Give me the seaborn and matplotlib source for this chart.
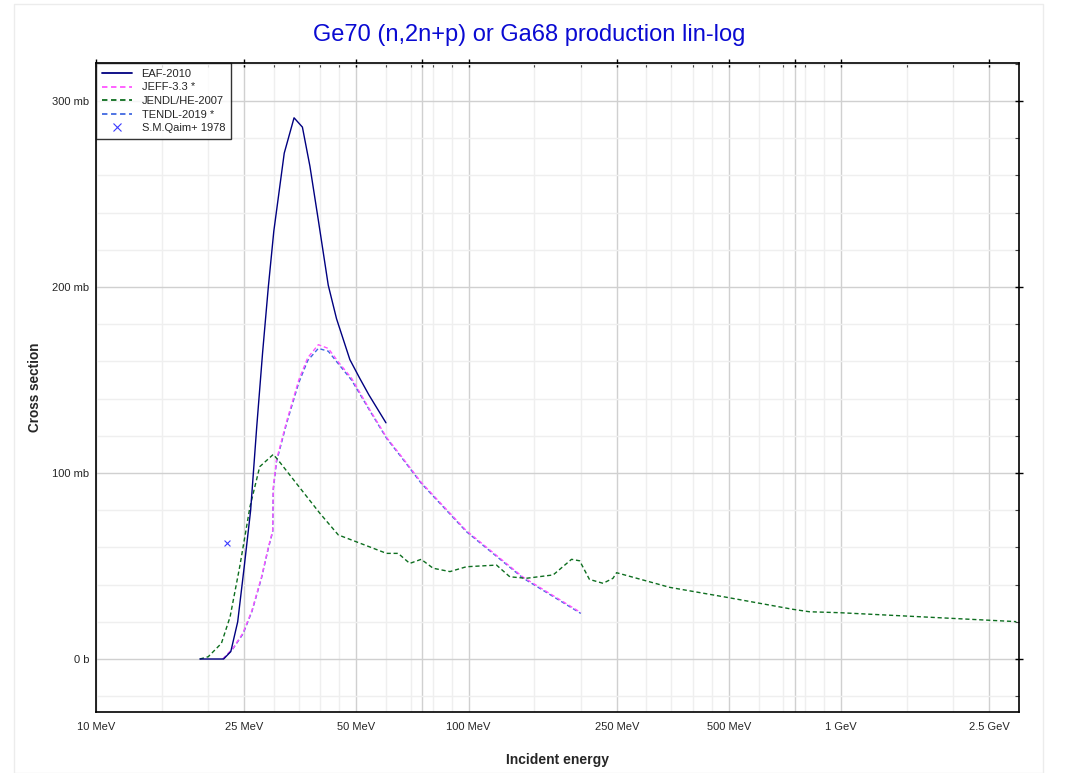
import numpy as np
import pandas as pd
import matplotlib
matplotlib.use('Agg')
import matplotlib.pyplot as plt
import matplotlib.ticker as mticker
from matplotlib import font_manager
from matplotlib.lines import Line2D
from matplotlib.patches import Rectangle
import seaborn as sns

# --- data (energy in MeV, cross section in mb) ---
eaf_e = [19.0, 22.0, 23.0, 24.0, 25.0, 26.0, 27.0, 28.0, 29.0, 30.0, 32.0, 34.0, 35.8,
         37.5, 39.5, 42.0, 44.2, 48.0, 51.0, 54.0, 60.0]
eaf_xs = [0, 0, 4, 20, 50, 80, 125, 165, 200, 230, 272, 291, 286,
          265, 236, 201, 183, 161, 151, 142, 127]

jeff_e = [21.9, 23.3, 24.8, 26.2, 27.8, 29.0, 29.8, 29.9, 30.5, 32.5, 35.0, 37.0, 39.5,
          42.0, 45.0, 48.5, 54.3, 60.3, 66.0, 74.6, 98.6, 140.0, 200.0]
jeff_xs = [0, 5.7, 14, 26, 44, 60, 69, 92, 107, 128, 150, 162, 169,
           167, 159, 151, 134, 119, 109, 95, 69, 44, 25]

tendl_e = jeff_e
tendl_xs = [0, 5.5, 13.5, 25.5, 43.5, 59.5, 68.5, 91, 106, 127, 148.5, 160.5, 167,
            165.5, 158, 150, 133.5, 118.5, 108.5, 94.5, 68.5, 43.5, 24.5]

jendl_e = [19.0, 20.0, 21.7, 22.9, 24.3, 25.9, 27.5, 29.9, 30.8, 34.5, 39.9, 44.7, 50.0,
           60.2, 64.7, 69.5, 74.6, 80.3, 89.1, 98.6, 118.8, 129.0, 142.8, 168.6, 188.9,
           198.6, 211.0, 229.5, 244.0, 249.5, 347.0, 492.0, 743.0, 822.0, 991.0, 2951.0]
jendl_xs = [0, 1.2, 8.4, 22.7, 49.6, 82, 103.4, 110, 107, 94.4, 78.3, 66.7, 63,
            56.8, 56.8, 51.4, 53.6, 48.8, 47, 49.6, 50.5, 44.2, 43.4, 45.2, 53.6,
            52.8, 42.8, 40.7, 43.4, 46.4, 38.5, 33.2, 26.7, 25.4, 24.9, 20.1]

exp_e = [22.4]
exp_xs = [62.2]

labels = ['EAF-2010', 'JEFF-3.3 *', 'JENDL/HE-2007', 'TENDL-2019 *', 'S.M.Qaim+ 1978']
colors = ['#000080', '#ff55ff', '#0d6e1f', '#4169e1', '#3a3aff']

sns.set_style('white')
plt.rcParams['font.family'] = ['Liberation Sans', 'DejaVu Sans']
names = {f.name for f in font_manager.fontManager.ttflist}
narrow = 'Liberation Sans Narrow' if 'Liberation Sans Narrow' in names else 'Liberation Sans'

fig = plt.figure(figsize=(10.67, 7.73), dpi=100)
ax = fig.add_axes([0.09, 0.0789, 0.865, 0.8392])

# faint frame round the whole picture
fig.patches.append(Rectangle((14 / 1067, 0), (1043 - 14) / 1067, 1 - 4 / 773,
                             transform=fig.transFigure, fill=False,
                             edgecolor='#ececec', lw=1))

dash = (3, 2)
sns.lineplot(x=tendl_e, y=tendl_xs, ax=ax, color=colors[3], lw=1, estimator=None,
             sort=False, linestyle=(0, dash))
sns.lineplot(x=jeff_e, y=jeff_xs, ax=ax, color=colors[1], lw=1, estimator=None,
             sort=False, linestyle=(0, dash))
sns.lineplot(x=jendl_e, y=jendl_xs, ax=ax, color=colors[2], lw=1, estimator=None,
             sort=False, linestyle=(0, dash))
sns.lineplot(x=eaf_e, y=eaf_xs, ax=ax, color=colors[0], lw=1, estimator=None, sort=False)
sns.scatterplot(x=exp_e, y=exp_xs, ax=ax, color=colors[4], marker='x', s=18, linewidth=0.8)

ax.set_xscale('log')
ax.set_xlim(10, 3000)
ax.set_ylim(-28.5, 320.3)

# x ticks
major_x = [10, 25, 50, 75, 100, 250, 500, 750, 1000, 2500]
major_lbl = ['10 MeV', '25 MeV', '50 MeV', '', '100 MeV', '250 MeV', '500 MeV', '', '1 GeV', '2.5 GeV']
minor_x = [15, 20, 30, 35, 40, 45, 60, 70, 80, 90, 150, 200, 300, 350, 400, 450,
           600, 700, 800, 900, 1500, 2000]
ax.xaxis.set_major_locator(mticker.FixedLocator(major_x))
ax.xaxis.set_major_formatter(mticker.FixedFormatter(major_lbl))
ax.xaxis.set_minor_locator(mticker.FixedLocator(minor_x))
ax.xaxis.set_minor_formatter(mticker.NullFormatter())

# y ticks
ax.yaxis.set_major_locator(mticker.FixedLocator([0, 100, 200, 300]))
ax.yaxis.set_major_formatter(mticker.FuncFormatter(lambda v, p: '0 b' if v == 0 else f'{int(v)} mb'))
ax.yaxis.set_minor_locator(mticker.MultipleLocator(20))

ax.grid(which='major', color='#d0d0d0', lw=1)
ax.grid(which='minor', color='#efefef', lw=1)
ax.set_axisbelow(True)

ax.tick_params(which='major', direction='inout', length=6, width=1, color='black',
               top=True, right=True, labelsize=8, pad=2)
ax.tick_params(which='minor', direction='in', length=3, width=0.8, color='#444444',
               top=True, right=True)
ax.tick_params(axis='x', which='major', pad=4)
for lab in ax.get_xticklabels():
    lab.set_family(narrow)
for s in ax.spines.values():
    s.set_color('black')
    s.set_linewidth(1.2)

ax.set_xlabel('Incident energy', fontsize=10, fontweight='bold', labelpad=15)
ax.set_ylabel('Cross section', fontsize=9.8, fontweight='bold', labelpad=7)
fig.text(0.496, 0.955, 'Ge70 (n,2n+p) or Ga68 production lin-log', ha='center', va='center',
         fontsize=17, color='#0a0ad2')

handles = [
    Line2D([], [], color=colors[0], lw=1.3),
    Line2D([], [], color=colors[1], lw=1.3, linestyle=(0, dash)),
    Line2D([], [], color=colors[2], lw=1.3, linestyle=(0, dash)),
    Line2D([], [], color=colors[3], lw=1.3, linestyle=(0, dash)),
    Line2D([], [], color=colors[4], lw=0, marker='x', markersize=6, markeredgewidth=0.8),
]
leg = ax.legend(handles, labels, loc='upper left', bbox_to_anchor=(0, 1), borderaxespad=0,
                fontsize=8, frameon=True, fancybox=False, handlelength=2.7,
                labelspacing=0.32, borderpad=0.5, handletextpad=0.9)
leg.get_frame().set_edgecolor('black')
leg.get_frame().set_linewidth(1)

fig.savefig('out.png', dpi=100)
